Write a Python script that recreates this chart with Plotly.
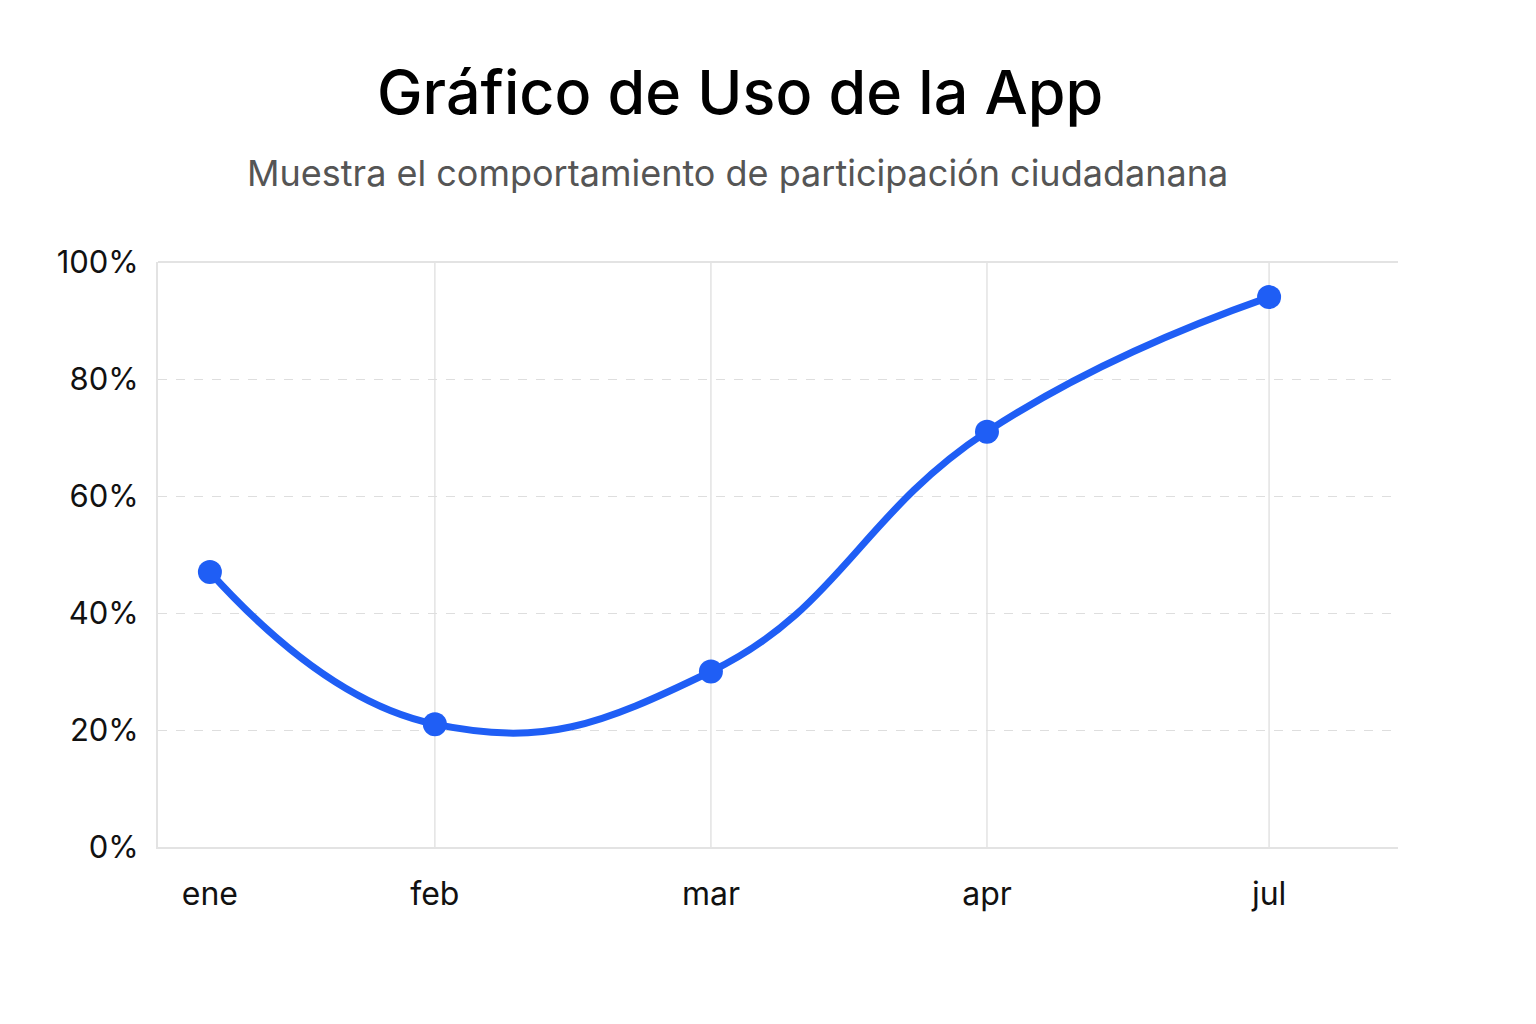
import plotly.graph_objects as go

# Data
months = ["ene", "feb", "mar", "apr", "jul"]
usage_pct = [47, 21, 30, 71, 94]
y_ticks = [0, 20, 40, 60, 80, 100]
y_tick_text = [f"{v}%" for v in y_ticks]

# Layout positions of the categories along the x axis (uneven spacing as in the source)
x_pos = [0, 0.815, 1.815, 2.815, 3.837]

FONT = "Inter, Roboto, sans-serif"
BLUE = "#1F5EF5"
GRID = "#E3E3E3"

fig = go.Figure()
fig.add_trace(go.Scatter(
    x=x_pos, y=usage_pct,
    mode="lines+markers",
    line=dict(color=BLUE, width=7, shape="spline", smoothing=1.3),
    marker=dict(color=BLUE, size=24),
    hoverinfo="skip",
    showlegend=False,
))

# vertical grid lines (none at the first category, as in the source)
shapes = [dict(type="line", xref="x", yref="paper", x0=xv, x1=xv, y0=0, y1=1,
               line=dict(color=GRID, width=1.5), layer="below") for xv in x_pos[1:]]
shapes.append(dict(type="line", xref="paper", yref="paper", x0=0, x1=1, y0=1, y1=1,
                   line=dict(color=GRID, width=2), layer="below"))

fig.update_layout(
    width=1528, height=1016,
    margin=dict(l=150, r=138, t=254, b=177),
    paper_bgcolor="white", plot_bgcolor="white",
    font=dict(family=FONT, color="#111111"),
    xaxis=dict(
        range=[-0.188, 4.304], automargin=False,
        tickmode="array", tickvals=x_pos, ticktext=months,
        tickfont=dict(size=32, family=FONT, color="#111111"),
        showgrid=False,
        showline=True, linecolor=GRID, linewidth=2,
        zeroline=False, ticks="", ticklabelstandoff=18,
        fixedrange=True,
    ),
    yaxis=dict(
        range=[0, 100], automargin=False,
        tickmode="array", tickvals=y_ticks, ticktext=y_tick_text,
        tickfont=dict(size=31, family=FONT, color="#111111"),
        showgrid=True, gridcolor="#DEDEDE", gridwidth=1, griddash="dash",
        showline=True, linecolor=GRID, linewidth=2,
        zeroline=False, ticks="", ticklabelstandoff=11,
        fixedrange=True,
    ),
    shapes=shapes,
    annotations=[
        dict(text="Gráfico de Uso de la App", xref="paper", yref="paper",
             x=0.469, y=1.2906, xanchor="center", yanchor="middle", showarrow=False,
             font=dict(family=FONT, size=61, color="#000000", weight=500)),
        dict(text="Muestra el comportamiento de participación ciudadanana", xref="paper", yref="paper",
             x=0.467, y=1.152, xanchor="center", yanchor="middle", showarrow=False,
             font=dict(family=FONT, size=36, color="#555555")),
    ],
)

fig.write_html("out.html")
